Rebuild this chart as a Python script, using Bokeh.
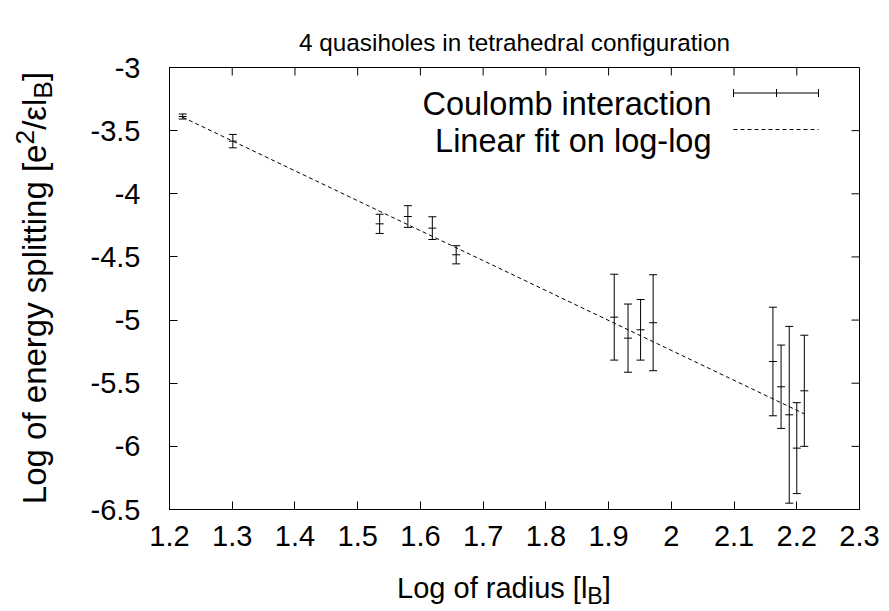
from bokeh.plotting import figure
from bokeh.models import Range1d, FixedTicker, LinearAxis, Label, Div
from bokeh.layouts import column, row
from bokeh.embed import file_html
from bokeh.resources import INLINE

# ---- data ----
radius_log = [1.221, 1.301, 1.535, 1.580, 1.619, 1.657, 1.909, 1.931, 1.951, 1.971,
              2.162, 2.175, 2.188, 2.200, 2.212]
energy_log = [-3.388, -3.583, -4.238, -4.180, -4.272, -4.483, -4.977, -5.143, -5.077, -5.021,
              -5.328, -5.528, -5.750, -6.014, -5.560]
energy_err = [0.020, 0.053, 0.076, 0.086, 0.090, 0.072, 0.340, 0.270, 0.240, 0.380,
              0.430, 0.330, 0.700, 0.360, 0.440]
fit_slope = -2.37
fit_intercept = -0.500

x_ticks = [1.2, 1.3, 1.4, 1.5, 1.6, 1.7, 1.8, 1.9, 2.0, 2.1, 2.2, 2.3]
x_tick_labels = ["1.2", "1.3", "1.4", "1.5", "1.6", "1.7", "1.8", "1.9", "2", "2.1", "2.2", "2.3"]
y_ticks = [-3.0, -3.5, -4.0, -4.5, -5.0, -5.5, -6.0, -6.5]
y_tick_labels = ["-3", "-3.5", "-4", "-4.5", "-5", "-5.5", "-6", "-6.5"]

title_text = "4 quasiholes in tetrahedral configuration"
legend_labels = ["Coulomb interaction", "Linear fit on log-log"]

# ---- layout (canvas pixels) ----
W, H = 889, 611
FL, FR, FT, FB = 169, 859, 67, 509     # frame edges
LEFT_W = 60                             # y-label strip
P_BOTTOM = 560                          # bottom of the figure canvas
X0, X1 = 1.2, 2.3
Y0, Y1 = -6.5, -3.0
FONT = "Liberation Sans"

p = figure(width=W - LEFT_W, height=P_BOTTOM, output_backend="svg",
           toolbar_location=None, title=title_text,
           x_range=Range1d(X0, X1), y_range=Range1d(Y0, Y1),
           min_border_left=FL - LEFT_W, min_border_right=W - FR,
           min_border_top=FT, min_border_bottom=P_BOTTOM - FB,
           x_axis_type=None, y_axis_type=None)
p.title.text_font = FONT
p.title.text_font_size = "24.3px"
p.title.text_font_style = "normal"
p.title.text_color = "black"
p.title.align = "center"
p.title.standoff = 24
p.grid.visible = False
p.outline_line_color = "black"
p.outline_line_width = 1
p.background_fill_color = "white"
p.border_fill_color = "white"

xt = FixedTicker(ticks=x_ticks, minor_ticks=[])
yt = FixedTicker(ticks=y_ticks, minor_ticks=[])

def make_axis(ticker, overrides, standoff):
    ax = LinearAxis(ticker=ticker)
    ax.major_tick_in = 8
    ax.major_tick_out = 0
    ax.minor_tick_in = 0
    ax.minor_tick_out = 0
    ax.axis_line_color = "black"
    ax.major_tick_line_color = "black"
    ax.major_label_overrides = overrides
    ax.major_label_text_font = FONT
    ax.major_label_text_color = "black"
    ax.major_label_text_font_size = "29px"
    ax.major_label_standoff = standoff
    return ax

p.add_layout(make_axis(xt, dict(zip(x_ticks, x_tick_labels)), 16), "below")
p.add_layout(make_axis(yt, dict(zip(y_ticks, y_tick_labels)), 29), "left")

# ---- pixel helpers (annotations only) ----
def dx(px):
    return X0 + (px - FL) / (FR - FL) * (X1 - X0)

def dy(py):
    return Y1 - (py - FT) / (FB - FT) * (Y1 - Y0)

tick_dx = 8 * (X1 - X0) / (FR - FL)
tick_dy = 8 * (Y1 - Y0) / (FB - FT)

# mirrored inward ticks on top and right edges
p.segment(x0=x_ticks, y0=[Y1] * len(x_ticks), x1=x_ticks, y1=[Y1 - tick_dy] * len(x_ticks),
          line_color="black", line_width=1)
p.segment(x0=[X1] * len(y_ticks), y0=y_ticks, x1=[X1 - tick_dx] * len(y_ticks), y1=y_ticks,
          line_color="black", line_width=1)

# ---- data marks ----
lo = [y - e for y, e in zip(energy_log, energy_err)]
hi = [y + e for y, e in zip(energy_log, energy_err)]
p.segment(x0=radius_log, y0=lo, x1=radius_log, y1=hi, line_color="black", line_width=1)
p.scatter(x=radius_log + radius_log + radius_log, y=lo + hi + energy_log, marker="dash",
          size=8, line_color="black", line_width=1)

fx = [min(radius_log), max(radius_log)]
fy = [fit_intercept + fit_slope * v for v in fx]
p.line(fx, fy, line_color="black", line_width=1, line_dash="4 3")

# ---- legend (gnuplot style: text left, sample right) ----
lx0, lx1, lxm = dx(733), dx(818), dx(776)
ly1, ly2 = dy(92.5), dy(129)
p.segment(x0=[lx0], y0=[ly1], x1=[lx1], y1=[ly1], line_color="black", line_width=1)
cap = 4 * (Y1 - Y0) / (FB - FT)
p.segment(x0=[lx0, lx1, lxm], y0=[ly1 - cap] * 3, x1=[lx0, lx1, lxm], y1=[ly1 + cap] * 3,
          line_color="black", line_width=1)
p.line([lx0, lx1], [ly2, ly2], line_color="black", line_width=1, line_dash="4 3")

def legend_text(text, baseline_py):
    p.add_layout(Label(x=711 - FL, y=FB - baseline_py, x_units="screen", y_units="screen",
                       text=text, text_font=FONT, text_font_size="32.5px",
                       text_color="black", text_align="right", text_baseline="alphabetic"))

legend_text(legend_labels[0], 103)
legend_text(legend_labels[1], 140)

# ---- axis titles as HTML (allows sub/superscripts) ----
FF = "font-family:'Liberation Sans',Arial,sans-serif;color:black;white-space:nowrap;"
SUB = "font-size:0.8em;vertical-align:-0.25em;line-height:0;"
SUP = "font-size:0.8em;vertical-align:0.42em;line-height:0;"

ylab_html = (
    f'<div style="position:relative;width:{LEFT_W}px;height:{P_BOTTOM}px;">'
    f'<span style="position:absolute;left:33.6px;top:{(FT + FB) / 2}px;'
    f'transform:translate(-50%,-50%) rotate(-90deg);{FF}font-size:33px;line-height:33px;">'
    f'Log of energy splitting [e<span style="{SUP}">2</span>/&epsilon;l'
    f'<span style="{SUB}">B</span>]</span></div>')
ylab_div = Div(text=ylab_html, width=LEFT_W, height=P_BOTTOM, margin=0)

xlab_html = (
    f'<div style="position:relative;width:{W}px;height:{H - P_BOTTOM}px;">'
    f'<span style="position:absolute;left:504px;top:13.5px;transform:translateX(-50%);'
    f'{FF}font-size:29px;line-height:29px;">'
    f'Log of radius [l<span style="{SUB}">B</span>]</span></div>')
xlab_div = Div(text=xlab_html, width=W, height=H - P_BOTTOM, margin=0)

layout = column(row(ylab_div, p, spacing=0), xlab_div, spacing=0)

open("out.html", "w").write(file_html(layout, INLINE))
